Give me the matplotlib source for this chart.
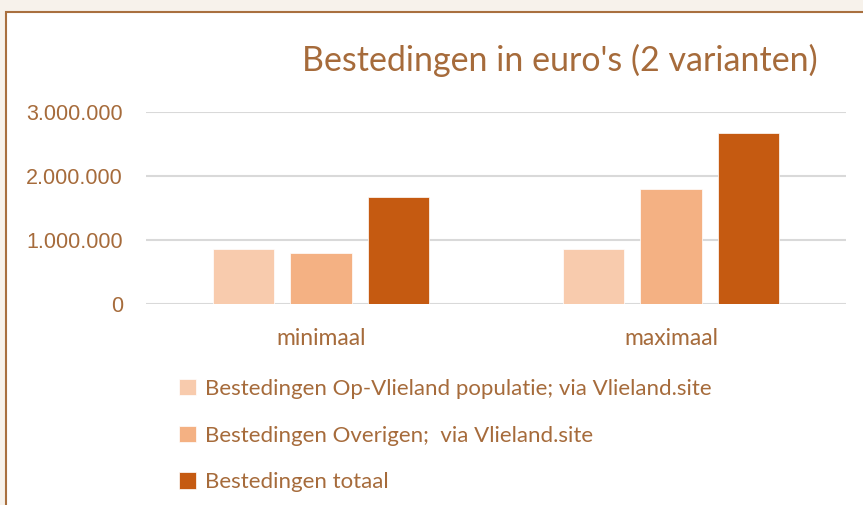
import matplotlib.pyplot as plt
import numpy as np
from matplotlib.patches import Rectangle
from matplotlib.ticker import FuncFormatter

# --- data ---
categories = ['minimaal', 'maximaal']
series_names = ['Bestedingen Op-Vlieland populatie; via Vlieland.site',
                'Bestedingen Overigen;  via Vlieland.site',
                'Bestedingen totaal']
op_vlieland = [865000, 865000]
overigen = [790000, 1790000]
totaal = [1665000, 2665000]

colors = ['#F8CBAD', '#F4B183', '#C55A11']
text_color = '#A66B3B'

fig = plt.figure(figsize=(8.63, 5.05), dpi=100)
fig.patch.set_facecolor('#F7F2EB')

# white chart area with brown frame (runs off right/bottom edge)
frame = Rectangle((6 / 863, -0.05), 1.0, 1 - 12 / 505 + 0.05, transform=fig.transFigure,
                  facecolor='white', edgecolor='#A9703F', linewidth=1.5, zorder=-10)
fig.patches.append(frame)

ax = fig.add_axes([146 / 863, 1 - 304 / 505, 700 / 863, (304 - 111.7) / 505])
ax.set_facecolor('none')

x = np.arange(len(categories))
width = 0.175
step = 0.221
for i, (vals, name) in enumerate(zip([op_vlieland, overigen, totaal], series_names)):
    ax.bar(x + (i - 1) * step, vals, width, color=colors[i], label=name, zorder=3,
           edgecolor='white', linewidth=0.5)

ax.set_xlim(-0.5, 1.5)
ax.set_ylim(0, 3000000)
ax.set_yticks([0, 1000000, 2000000, 3000000])
ax.yaxis.set_major_formatter(FuncFormatter(lambda v, p: f'{int(v):,}'.replace(',', '.')))
ax.set_xticks(x)
ax.set_xticklabels(categories)
ax.grid(axis='y', color='#D9D9D9', linewidth=1.5, zorder=1)
for s in ['top', 'right', 'left', 'bottom']:
    ax.spines[s].set_visible(False)
ax.tick_params(length=0)
for lbl in ax.get_yticklabels():
    lbl.set_fontfamily('Liberation Sans')
    lbl.set_fontsize(15.5)
    lbl.set_color(text_color)
ax.tick_params(axis='y', pad=16.5)
for lbl in ax.get_xticklabels():
    lbl.set_fontfamily('Lato')
    lbl.set_fontsize(16.5)
    lbl.set_color(text_color)
ax.tick_params(axis='x', pad=17)

fig.text(560 / 863, 1 - 60 / 505, "Bestedingen in euro's (2 varianten)", ha='center', va='center',
         fontsize=24.5, color=text_color, fontfamily='Lato')

leg = fig.legend(loc='upper left', bbox_to_anchor=(159 / 863, 1 - 359 / 505), frameon=False,
                 prop={'family': 'Lato', 'size': 16}, handlelength=0.75, handleheight=0.75,
                 handletextpad=0.4, labelspacing=1.2)
for t in leg.get_texts():
    t.set_color(text_color)

fig.savefig('out.png', dpi=100, facecolor=fig.get_facecolor())
